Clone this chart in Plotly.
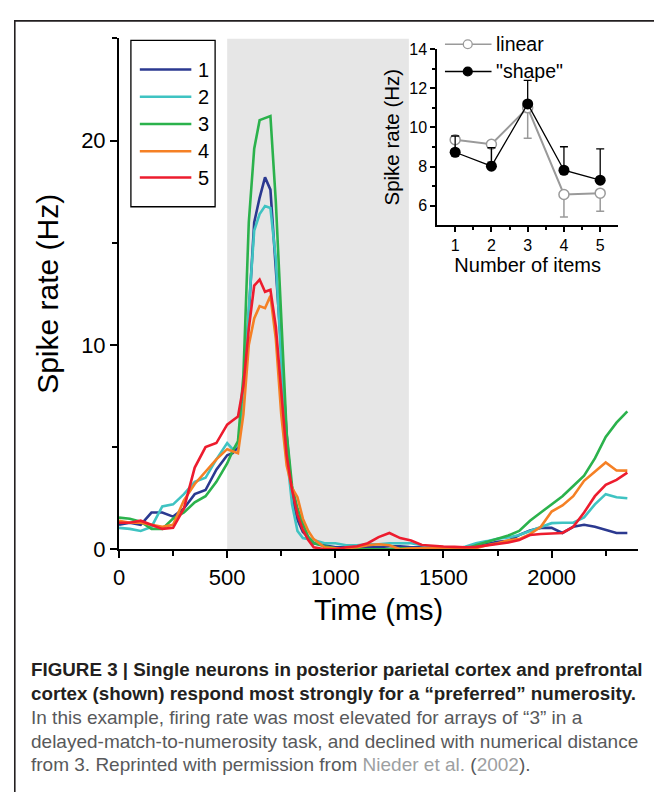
import plotly.graph_objects as go

# the page adds an 8px body margin; the figure fills the remaining 646x784
PAGE_W, PAGE_H, BODY_MARGIN = 662, 800, 8
W, H = PAGE_W - 2 * BODY_MARGIN, PAGE_H - 2 * BODY_MARGIN

# ---------------- data ----------------
time_ms = [0, 50, 100, 150, 200, 250, 300, 350, 400, 450, 500,
           525, 550, 575, 600, 625, 650, 675, 700, 725, 750, 775, 800, 825, 850, 875, 900,
           950, 1000, 1050, 1100, 1150, 1200, 1250, 1300, 1350, 1400, 1450, 1500, 1550,
           1600, 1650, 1700, 1750, 1800, 1850, 1900, 1950, 2000, 2050, 2100, 2150, 2200,
           2250, 2300, 2350]

rate_1 = [1.2, 1.3, 1.2, 1.8, 1.8, 1.6, 2.0, 2.7, 2.9, 3.9, 4.6,
          4.7, 5.0, 7.3, 11.5, 16.0, 17.2, 18.2, 17.6, 13.8, 9.8, 5.6, 2.6, 1.45, 0.85, 0.6, 0.3,
          0.2, 0.1, 0.1, 0.05, 0.1, 0.1, 0.15, 0.15, 0.1, 0.1, 0.1, 0.1, 0.05,
          0.05, 0.15, 0.25, 0.37, 0.42, 0.7, 0.92, 1.05, 1.05, 0.8, 1.1, 1.2, 1.1,
          0.95, 0.8, 0.8]
rate_2 = [1.05, 1.0, 0.9, 1.1, 2.1, 2.2, 2.7, 3.3, 3.5, 4.4, 5.2,
          4.9, 5.1, 7.2, 11.8, 15.6, 16.4, 16.8, 16.7, 14.2, 9.2, 4.7, 2.2, 0.9, 0.55, 0.5, 0.45,
          0.3, 0.3, 0.2, 0.2, 0.25, 0.25, 0.3, 0.3, 0.3, 0.2, 0.1, 0.05, 0.0,
          0.13, 0.3, 0.4, 0.52, 0.58, 0.7, 0.9, 1.1, 1.28, 1.3, 1.3, 1.56, 2.2,
          2.7, 2.55, 2.5]
rate_3 = [1.55, 1.5, 1.35, 1.0, 1.0, 1.5, 1.8, 2.3, 2.6, 3.3, 4.2,
          4.8, 5.3, 8.5, 16.0, 19.6, 21.0, 21.1, 21.2, 17.0, 11.2, 5.7, 3.1, 2.0, 1.25, 0.6, 0.3,
          0.15, 0.05, 0.0, 0.0, 0.0, 0.0, 0.0, 0.05, 0.05, 0.05, 0.05, 0.05, 0.0,
          0.0, 0.2, 0.35, 0.52, 0.68, 0.9, 1.4, 1.8, 2.2, 2.6, 3.1, 3.6, 4.45,
          5.5, 6.2, 6.75]
rate_4 = [1.4, 1.3, 1.3, 1.2, 1.1, 1.2, 2.4, 3.2, 3.8, 4.4, 4.9,
          4.8, 4.7, 6.6, 10.0, 11.3, 11.9, 11.8, 12.4, 10.3, 6.6, 4.1, 3.0, 2.55, 1.5, 0.9, 0.5,
          0.1, 0.05, 0.05, 0.1, 0.2, 0.25, 0.2, 0.0, 0.05, 0.05, 0.05, 0.05, 0.0,
          0.0, 0.05, 0.2, 0.3, 0.44, 0.5, 0.74, 1.1, 1.85, 2.15, 2.6, 3.35, 3.8,
          4.25, 3.86, 3.85]
rate_5 = [1.3, 1.3, 1.4, 1.2, 1.0, 1.05, 2.0, 4.0, 5.0, 5.2, 6.1,
          6.3, 6.5, 8.0, 10.8, 12.9, 13.2, 12.6, 12.7, 10.9, 7.8, 4.6, 2.9, 1.7, 0.95, 0.45, 0.1,
          0.0, 0.0, 0.1, 0.15, 0.3, 0.6, 0.8, 0.55, 0.43, 0.21, 0.16, 0.14, 0.12,
          0.1, 0.12, 0.18, 0.27, 0.33, 0.45, 0.7, 0.75, 0.76, 0.8, 1.1, 1.8, 2.6,
          3.15, 3.4, 3.75]

series_names = ["1", "2", "3", "4", "5"]
series_colors = ["#2b3990", "#3fc3c2", "#2bb24c", "#f58025", "#ed1c2e"]
series_values = [rate_1, rate_2, rate_3, rate_4, rate_5]

sample_period = [500, 1340]   # grey shaded interval (ms)

# inset
items = [1, 2, 3, 4, 5]
linear_rate = [9.37, 9.14, 11.0, 6.57, 6.64]
linear_err_down = [0.82, 0.9, 1.55, 1.15, 0.92]
shape_rate = [8.73, 8.02, 11.2, 7.81, 7.30]
shape_err_up = [0.83, 0.94, 1.2, 1.2, 1.6]

FONT = "Liberation Sans, Arial, sans-serif"
INK = "#231f20"


def px(x):
    """page x pixel -> paper fraction"""
    return (x - BODY_MARGIN) / W


def py(y):
    """page y pixel -> paper fraction"""
    return 1 - (y - BODY_MARGIN) / H


fig = go.Figure()

for name, col, vals in zip(series_names, series_colors, series_values):
    fig.add_trace(go.Scatter(x=time_ms, y=vals, mode="lines", name=name,
                             line=dict(color=col, width=2.6), showlegend=False,
                             xaxis="x", yaxis="y"))

fig.add_trace(go.Scatter(
    x=items, y=linear_rate, mode="lines+markers", name="linear", showlegend=False,
    line=dict(color="#9a9a9a", width=2),
    marker=dict(symbol="circle", size=10, color="white", line=dict(color="#9a9a9a", width=1.5)),
    error_y=dict(type="data", symmetric=False, array=[0] * 5, arrayminus=linear_err_down,
                 color="#9a9a9a", thickness=1.5, width=4),
    xaxis="x2", yaxis="y2"))
fig.add_trace(go.Scatter(
    x=items, y=shape_rate, mode="lines+markers", name='"shape"', showlegend=False,
    line=dict(color="black", width=1.3),
    marker=dict(symbol="circle", size=11, color="black"),
    error_y=dict(type="data", symmetric=False, array=shape_err_up, arrayminus=[0] * 5,
                 color="black", thickness=1.3, width=4),
    xaxis="x2", yaxis="y2"))

axis_common = dict(showgrid=False, zeroline=False, showline=True, linecolor="black",
                   ticks="outside", tickcolor="black")

fig.update_layout(
    width=W, height=H, margin=dict(l=0, r=0, t=0, b=0),
    paper_bgcolor="white", plot_bgcolor="rgba(0,0,0,0)",
    font=dict(family=FONT, color="black"),
    xaxis=dict(domain=[px(114), px(638)], range=[0, 2400], anchor="y",
               tickvals=[0, 500, 1000, 1500, 2000], ticklen=7, tickwidth=2, linewidth=2,
               tickfont=dict(size=22),
               minor=dict(tickvals=[250, 750, 1250, 1750, 2250], ticklen=5, tickwidth=2,
                          ticks="outside", tickcolor="black"),
               title=dict(text="Time (ms)", font=dict(size=29), standoff=11),
               **axis_common),
    yaxis=dict(domain=[py(556), py(31)], range=[0, 25], anchor="x",
               tickvals=[0, 10, 20], ticklen=7, tickwidth=2, linewidth=2,
               tickfont=dict(size=22),
               minor=dict(tickvals=[5, 15, 25], ticklen=5, tickwidth=2,
                          ticks="outside", tickcolor="black"),
               title=dict(text="Spike rate (Hz)", font=dict(size=30), standoff=14),
               **axis_common),
    xaxis2=dict(domain=[px(435), px(618)], range=[0.5, 5.5], anchor="y2",
                tickvals=items, ticklen=5, tickwidth=1.5, linewidth=1.5,
                tickfont=dict(size=16),
                minor=dict(tickvals=[1.5, 2.5, 3.5, 4.5], ticklen=3, tickwidth=1.5,
                           ticks="outside", tickcolor="black"),
                title=dict(text="Number of items", font=dict(size=20), standoff=2),
                **axis_common),
    yaxis2=dict(domain=[py(223), py(42)], range=[5, 14], anchor="x2",
                tickvals=[6, 8, 10, 12, 14], ticklen=5, tickwidth=1.5, linewidth=1.5,
                tickfont=dict(size=16),
                minor=dict(tickvals=[7, 9, 11, 13], ticklen=3, tickwidth=1.5,
                           ticks="outside", tickcolor="black"),
                title=dict(text="Spike rate (Hz)", font=dict(size=20.5), standoff=4),
                **axis_common),
)

shapes = []
# grey sample period band
shapes.append(dict(type="rect", xref="x", yref="y", x0=sample_period[0], x1=sample_period[1],
                   y0=0, y1=25, fillcolor="#e6e6e6", line=dict(width=0), layer="below"))
# outer frame
shapes.append(dict(type="rect", xref="paper", yref="paper", x0=px(8.8), x1=1.2, y0=-0.2,
                   y1=py(13), line=dict(color=INK, width=1.6), fillcolor="rgba(0,0,0,0)"))
# main legend box
shapes.append(dict(type="rect", xref="paper", yref="paper", x0=px(126), x1=px(211),
                   y0=py(204), y1=py(33), line=dict(color="black", width=1.3),
                   fillcolor="white"))
annotations = []
leg_y = [63, 91, 119, 147, 174]
for name, col, yy in zip(series_names, series_colors, leg_y):
    shapes.append(dict(type="line", xref="paper", yref="paper", x0=px(135), x1=px(187),
                       y0=py(yy), y1=py(yy), line=dict(color=col, width=2.6)))
    annotations.append(dict(xref="paper", yref="paper", x=px(192), y=py(yy), text=name,
                            showarrow=False, xanchor="left", yanchor="middle",
                            font=dict(size=20, family=FONT, color="black")))

# inset legend
for yy, col, fill, lbl in [(37, "#9a9a9a", "white", "linear"), (65, "black", "black", '"shape"')]:
    shapes.append(dict(type="line", xref="paper", yref="paper", x0=px(443), x1=px(490),
                       y0=py(yy), y1=py(yy), line=dict(color=col, width=1.6)))
    shapes.append(dict(type="circle", xref="paper", yref="paper", x0=px(461.5), x1=px(470.5),
                       y0=py(yy + 4.5), y1=py(yy - 4.5), fillcolor=fill,
                       line=dict(color=col, width=1.3)))
    annotations.append(dict(xref="paper", yref="paper", x=px(492), y=py(yy), text=lbl,
                            showarrow=False, xanchor="left", yanchor="middle",
                            font=dict(size=19.5, family=FONT, color="black")))

# caption
cap_lines = [
    ("<b>FIGURE 3 | Single neurons in posterior parietal cortex and prefrontal</b>", INK, 18.8),
    ("<b>cortex (shown) respond most strongly for a \u201cpreferred\u201d numerosity.</b>", INK, 18.8),
    ("In this example, firing rate was most elevated for arrays of \u201c3\u201d in a", "#58595b", 19),
    ("delayed-match-to-numerosity task, and declined with numerical distance", "#58595b", 19),
    ("from 3. Reprinted with permission from <span style='color:#9d9fa2'>Nieder et al.</span> "
     "(<span style='color:#9d9fa2'>2002</span>).", "#58595b", 19),
]
cap_y = [679, 704, 729, 753, 777]
for (txt, col, fs), yy in zip(cap_lines, cap_y):
    annotations.append(dict(xref="paper", yref="paper", x=px(23), y=py(yy), text=txt,
                            showarrow=False, xanchor="left", yanchor="middle",
                            font=dict(size=fs, family=FONT, color=col)))

fig.update_layout(shapes=shapes, annotations=annotations)
fig.write_html("out.html", config={"displayModeBar": False})
